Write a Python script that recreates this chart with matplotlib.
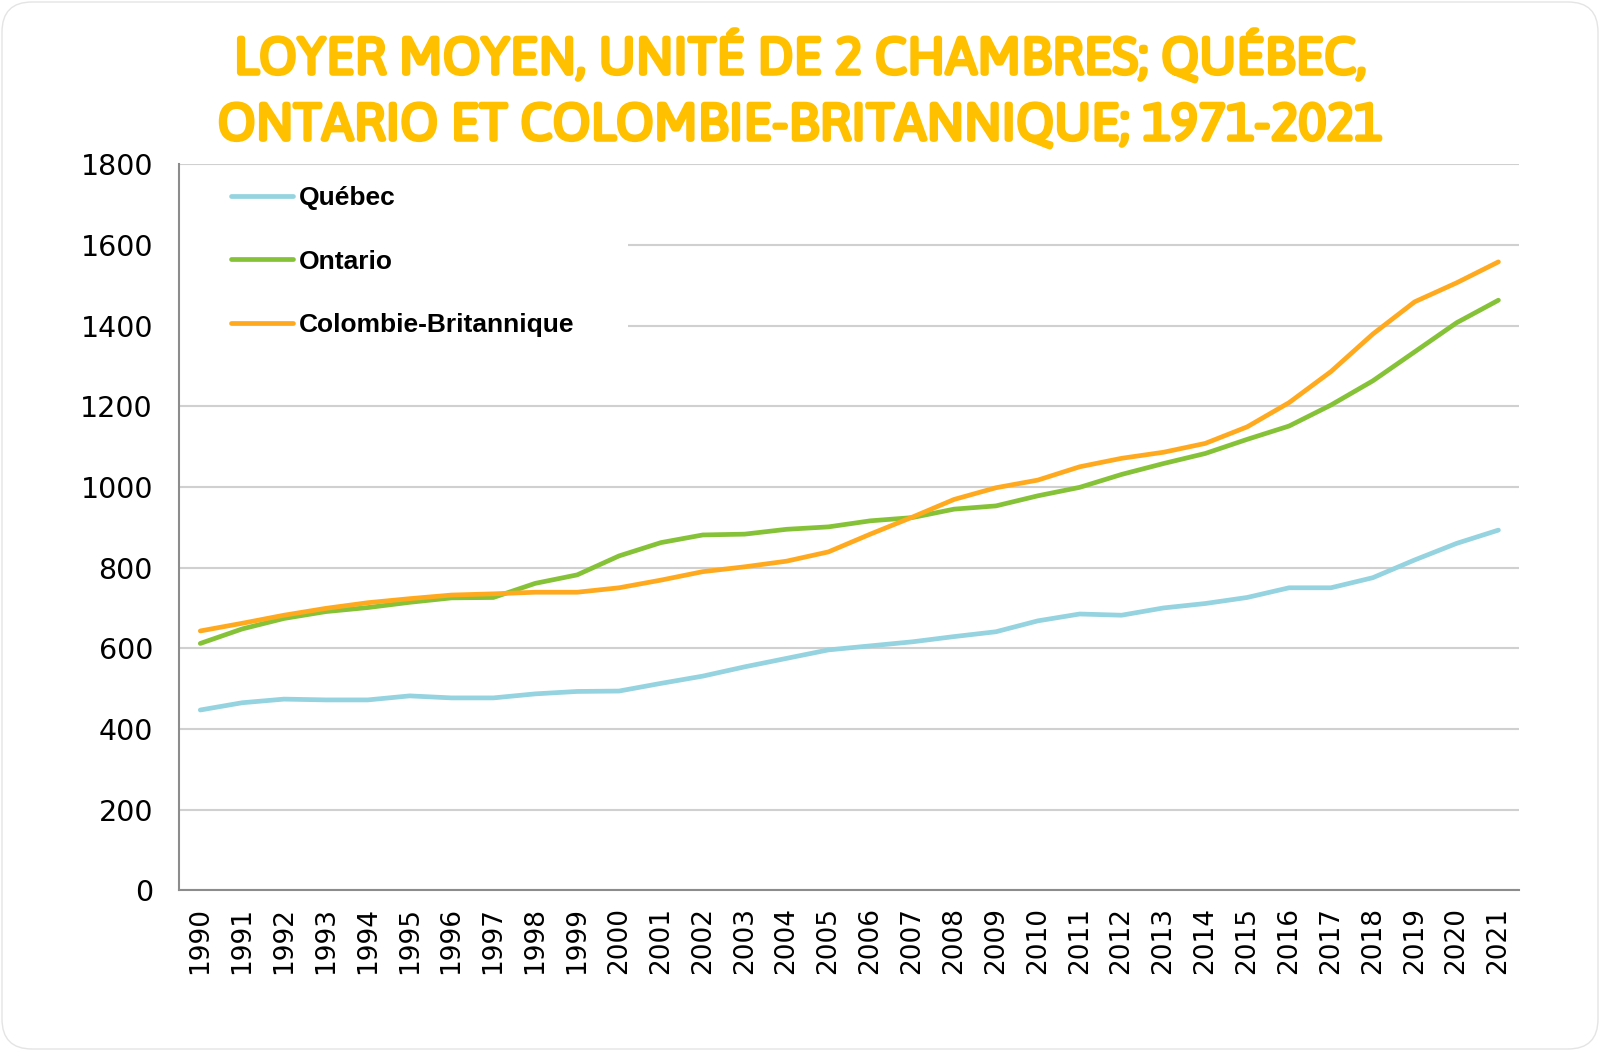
import matplotlib
matplotlib.use("Agg")
import matplotlib.pyplot as plt
import matplotlib.patheffects as pe
from matplotlib.patches import FancyBboxPatch, Rectangle

years = [str(y) for y in range(1990, 2022)]

quebec = [447, 465, 474, 472, 472, 482, 477, 477, 487, 493, 494, 513, 531, 554, 575, 596,
          606, 616, 629, 641, 668, 685, 682, 700, 711, 726, 750, 750, 775, 819, 860, 893]
ontario = [612, 648, 674, 691, 701, 714, 725, 726, 761, 782, 829, 862, 881, 883, 895, 901,
           916, 924, 945, 953, 978, 999, 1031, 1058, 1083, 1118, 1151, 1203, 1263, 1335, 1407, 1463]
colombie = [643, 662, 682, 699, 713, 723, 732, 735, 739, 739, 750, 769, 790, 802, 816, 839,
            883, 925, 969, 998, 1017, 1050, 1071, 1086, 1108, 1149, 1209, 1286, 1379, 1459, 1506, 1558]

series_names = ["Québec", "Ontario", "Colombie-Britannique"]
colors = ["#94D3DF", "#86C237", "#FFAA1E"]

title_1 = "LOYER MOYEN, UNITÉ DE 2 CHAMBRES; QUÉBEC,"
title_2 = "ONTARIO ET COLOMBIE-BRITANNIQUE; 1971-2021"
title_color = "#FFC000"

fig = plt.figure(figsize=(16, 10.51), dpi=100)
fig.patch.set_facecolor("white")
fig.patches.append(FancyBboxPatch((0.02, 0.02), 15.96, 10.47,
                                  boxstyle="round,pad=0,rounding_size=0.3",
                                  transform=fig.dpi_scale_trans, facecolor="none",
                                  edgecolor="#e4e4e4", linewidth=1))

ax = fig.add_axes([0.1121, 0.1529, 0.8375, 0.6908])
x = range(len(years))
for vals, name, c in zip([quebec, ontario, colombie], series_names, colors):
    ax.plot(x, vals, color=c, linewidth=3.4, label=name, solid_capstyle="round", zorder=3)

ax.set_xlim(-0.5, len(years) - 0.5)
ax.set_ylim(0, 1800)
ax.set_yticks(range(0, 1801, 200))
ax.set_xticks(list(x))
ax.set_xticklabels(years, rotation=90, fontsize=19, family="DejaVu Sans")
ax.tick_params(axis="x", length=0, pad=12)
ax.tick_params(axis="y", length=0, pad=19, labelsize=20.5)
for lab in ax.get_yticklabels():
    lab.set_family("DejaVu Sans")

ax.grid(axis="y", color="#d0d0d0", linewidth=1.5)
ax.set_axisbelow(True)
for s in ["top", "right"]:
    ax.spines[s].set_visible(False)
for s in ["left", "bottom"]:
    ax.spines[s].set_color("#8c8c8c")
    ax.spines[s].set_linewidth(1.5)

# white box behind the legend hides the gridlines
ax.add_patch(Rectangle((0, 0.733), 0.3346, 0.265, transform=ax.transAxes,
                       facecolor="white", edgecolor="none", zorder=1))

ax.legend(loc="upper left", bbox_to_anchor=(0.0386, 0.97), frameon=False,
          borderpad=0, borderaxespad=0, handlelength=2.35, handletextpad=0.2,
          labelspacing=1.5, prop={"family": "Liberation Sans", "weight": "bold", "size": 19})

# Asap has no bold here, so thicken strokes with an outline of the same colour
bold = [pe.withStroke(linewidth=2.6, foreground=title_color)]
fig.text(0.5, 0.9296, title_1, ha="center", va="baseline", color=title_color,
         fontsize=37.5, family="Asap", path_effects=bold)
fig.text(0.5, 0.8668, title_2, ha="center", va="baseline", color=title_color,
         fontsize=37.5, family="Asap", path_effects=bold)

fig.savefig("out.png", dpi=100)
